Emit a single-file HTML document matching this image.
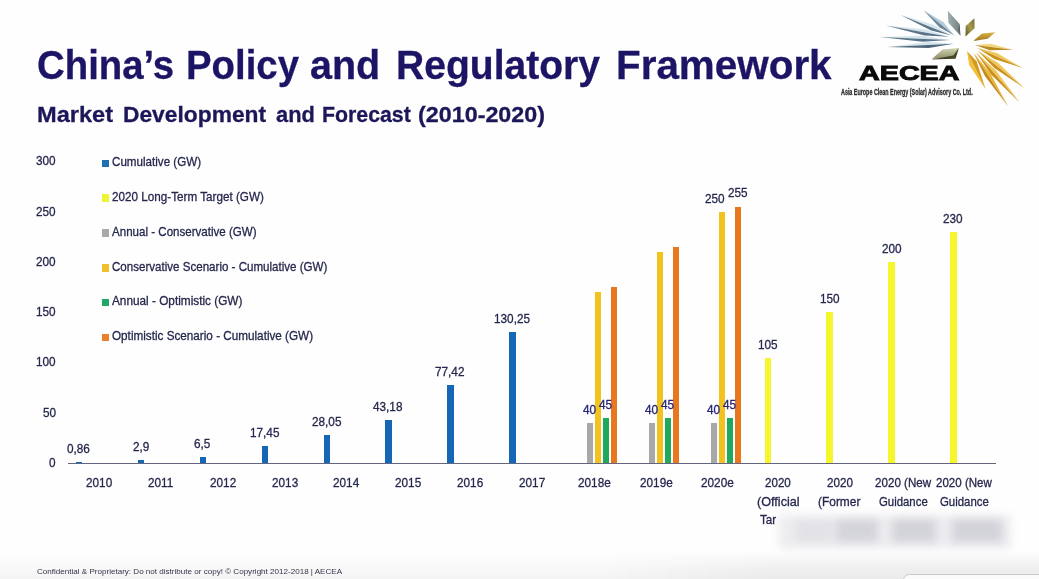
<!DOCTYPE html>
<html lang="en"><head><meta charset="utf-8"><title>China's Policy and Regulatory Framework</title>
<style>
html,body{margin:0;padding:0;}
body{width:1039px;height:579px;position:relative;overflow:hidden;background:#fff;font-family:"Liberation Sans", Arial, sans-serif;}
#s{position:absolute;left:0;top:0;width:1039px;height:579px;overflow:hidden;background:#fefefe;filter:blur(0.5px);}
.t{position:absolute;white-space:nowrap;line-height:1;transform-origin:0 0;display:block;-webkit-text-stroke:0.3px currentColor;}
.lg{-webkit-text-stroke:0.9px currentColor;}
.ft{-webkit-text-stroke:0;}
.b{position:absolute;width:6.4px;display:block;}
.m{position:absolute;left:102px;width:6.6px;height:7.4px;display:block;}
#ax{position:absolute;left:68px;top:462.8px;width:928px;height:1.5px;background:#64667f;}
#bot{position:absolute;left:0;top:551px;width:1039px;height:28px;background:linear-gradient(to bottom,rgba(255,255,255,0) 0%,#fafafa 45%,#f4f4f4 100%);}
#bot2{position:absolute;left:600px;top:551px;width:439px;height:28px;background:linear-gradient(to right,rgba(0,0,0,0),rgba(0,0,0,0.035) 40%);-webkit-mask-image:linear-gradient(to bottom,transparent,#000 60%);mask-image:linear-gradient(to bottom,transparent,#000 60%);}
#rr{position:absolute;left:903px;top:574px;width:160px;height:20px;border:1px solid #c9c9c9;border-radius:6px;background:#fbfbfb;}
#blur{position:absolute;left:0;top:0;width:1039px;height:579px;filter:blur(4px);}
#blur i{position:absolute;display:block;}
</style></head><body><div id="s">
<div id="bot"></div><div id="bot2"></div><div id="rr"></div>
<div id="blur">
<i style="left:779px;top:515px;width:232px;height:34px;background:#ededf0"></i>
<i style="left:796px;top:520px;width:36px;height:22px;background:#e2e2e7"></i>
<i style="left:836px;top:519px;width:42px;height:23px;background:#d4d4db"></i>
<i style="left:892px;top:519px;width:44px;height:23px;background:#d3d3da"></i>
<i style="left:952px;top:519px;width:50px;height:23px;background:#d3d3da"></i>
</div>
<i class="b" style="left:76.04px;top:462.43px;height:0.87px;background:#1567b6"></i><i class="b" style="left:137.91px;top:460.38px;height:2.92px;background:#1567b6"></i><i class="b" style="left:199.78px;top:456.76px;height:6.54px;background:#1567b6"></i><i class="b" style="left:261.65px;top:445.75px;height:17.55px;background:#1567b6"></i><i class="b" style="left:323.52px;top:435.08px;height:28.22px;background:#1567b6"></i><i class="b" style="left:385.39px;top:419.86px;height:43.44px;background:#1567b6"></i><i class="b" style="left:447.26px;top:385.42px;height:77.88px;background:#1567b6"></i><i class="b" style="left:509.13px;top:332.27px;height:131.03px;background:#1567b6"></i><i class="b" style="left:587.00px;top:423.06px;height:40.24px;background:#a8a8a8"></i><i class="b" style="left:595.00px;top:292.28px;height:171.02px;background:#f2c21e"></i><i class="b" style="left:603.00px;top:418.03px;height:45.27px;background:#1fa95c"></i><i class="b" style="left:611.00px;top:287.25px;height:176.05px;background:#e8771f"></i><i class="b" style="left:648.87px;top:423.06px;height:40.24px;background:#a8a8a8"></i><i class="b" style="left:656.87px;top:252.04px;height:211.26px;background:#f2c21e"></i><i class="b" style="left:664.87px;top:418.03px;height:45.27px;background:#1fa95c"></i><i class="b" style="left:672.87px;top:247.01px;height:216.29px;background:#e8771f"></i><i class="b" style="left:710.74px;top:423.06px;height:40.24px;background:#a8a8a8"></i><i class="b" style="left:718.74px;top:211.80px;height:251.50px;background:#f2c21e"></i><i class="b" style="left:726.74px;top:418.03px;height:45.27px;background:#1fa95c"></i><i class="b" style="left:734.74px;top:206.77px;height:256.53px;background:#e8771f"></i><i class="b" style="left:764.61px;top:357.67px;height:105.63px;background:#f5f62c"></i><i class="b" style="left:826.48px;top:312.40px;height:150.90px;background:#f5f62c"></i><i class="b" style="left:888.35px;top:262.10px;height:201.20px;background:#f5f62c"></i><i class="b" style="left:950.22px;top:231.92px;height:231.38px;background:#f5f62c"></i>
<div id="ax"></div>
<i class="m" style="top:159.60px;background:#1f6fb2"></i><i class="m" style="top:194.40px;background:#eef436"></i><i class="m" style="top:229.30px;background:#a9a9a9"></i><i class="m" style="top:264.30px;background:#efc02a"></i><i class="m" style="top:298.80px;background:#22a866"></i><i class="m" style="top:333.60px;background:#e8832c"></i>
<span class="t" style="left:37.30px;top:45.13px;font-size:40.6px;color:#1c1565;font-weight:700;transform:scaleX(0.9457);">China’s</span><span class="t" style="left:186.11px;top:45.13px;font-size:40.6px;color:#1c1565;font-weight:700;transform:scaleX(0.9452);">Policy</span><span class="t" style="left:310.28px;top:45.13px;font-size:40.6px;color:#1c1565;font-weight:700;transform:scaleX(0.9733);">and</span><span class="t" style="left:395.57px;top:45.13px;font-size:40.6px;color:#1c1565;font-weight:700;transform:scaleX(0.9626);">Regulatory</span><span class="t" style="left:616.01px;top:45.13px;font-size:40.6px;color:#1c1565;font-weight:700;transform:scaleX(0.9957);">Framework</span><span class="t" style="left:37.20px;top:104.44px;font-size:22.4px;color:#1b1758;font-weight:700;transform:scaleX(1.0534);">Market</span><span class="t" style="left:123.38px;top:104.44px;font-size:22.4px;color:#1b1758;font-weight:700;transform:scaleX(1.0175);">Development</span><span class="t" style="left:275.60px;top:104.44px;font-size:22.4px;color:#1b1758;font-weight:700;transform:scaleX(0.9750);">and</span><span class="t" style="left:321.95px;top:104.44px;font-size:22.4px;color:#1b1758;font-weight:700;transform:scaleX(0.9507);">Forecast</span><span class="t" style="left:417.86px;top:104.44px;font-size:22.4px;color:#1b1758;font-weight:700;transform:scaleX(1.0412);">(2010-2020)</span><span class="t" style="left:49.05px;top:457.03px;font-size:12.6px;color:#25274d;transform:scaleX(0.9350);">0</span><span class="t" style="left:42.51px;top:406.73px;font-size:12.6px;color:#25274d;transform:scaleX(0.9350);">50</span><span class="t" style="left:35.96px;top:356.43px;font-size:12.6px;color:#25274d;transform:scaleX(0.9350);">100</span><span class="t" style="left:35.96px;top:306.13px;font-size:12.6px;color:#25274d;transform:scaleX(0.9350);">150</span><span class="t" style="left:35.96px;top:255.83px;font-size:12.6px;color:#25274d;transform:scaleX(0.9350);">200</span><span class="t" style="left:35.96px;top:205.53px;font-size:12.6px;color:#25274d;transform:scaleX(0.9350);">250</span><span class="t" style="left:35.96px;top:155.23px;font-size:12.6px;color:#25274d;transform:scaleX(0.9350);">300</span><span class="t" style="left:112.30px;top:156.13px;font-size:12.6px;color:#25274d;transform:scaleX(0.9225);">Cumulative (GW)</span><span class="t" style="left:112.30px;top:190.93px;font-size:12.6px;color:#25274d;transform:scaleX(0.9286);">2020 Long-Term Target (GW)</span><span class="t" style="left:112.30px;top:225.83px;font-size:12.6px;color:#25274d;transform:scaleX(0.9181);">Annual - Conservative (GW)</span><span class="t" style="left:112.30px;top:260.83px;font-size:12.6px;color:#25274d;transform:scaleX(0.9186);">Conservative Scenario - Cumulative (GW)</span><span class="t" style="left:112.30px;top:295.33px;font-size:12.6px;color:#25274d;transform:scaleX(0.9363);">Annual - Optimistic (GW)</span><span class="t" style="left:112.30px;top:330.13px;font-size:12.6px;color:#25274d;transform:scaleX(0.9299);">Optimistic Scenario - Cumulative (GW)</span><span class="t" style="left:85.94px;top:476.73px;font-size:12.6px;color:#25274d;transform:scaleX(0.9350);">2010</span><span class="t" style="left:148.25px;top:476.73px;font-size:12.6px;color:#25274d;transform:scaleX(0.9350);">2011</span><span class="t" style="left:209.68px;top:476.73px;font-size:12.6px;color:#25274d;transform:scaleX(0.9350);">2012</span><span class="t" style="left:271.55px;top:476.73px;font-size:12.6px;color:#25274d;transform:scaleX(0.9350);">2013</span><span class="t" style="left:333.42px;top:476.73px;font-size:12.6px;color:#25274d;transform:scaleX(0.9350);">2014</span><span class="t" style="left:395.29px;top:476.73px;font-size:12.6px;color:#25274d;transform:scaleX(0.9350);">2015</span><span class="t" style="left:457.16px;top:476.73px;font-size:12.6px;color:#25274d;transform:scaleX(0.9350);">2016</span><span class="t" style="left:519.03px;top:476.73px;font-size:12.6px;color:#25274d;transform:scaleX(0.9350);">2017</span><span class="t" style="left:577.63px;top:476.73px;font-size:12.6px;color:#25274d;transform:scaleX(0.9350);">2018e</span><span class="t" style="left:639.50px;top:476.73px;font-size:12.6px;color:#25274d;transform:scaleX(0.9350);">2019e</span><span class="t" style="left:701.37px;top:476.73px;font-size:12.6px;color:#25274d;transform:scaleX(0.9350);">2020e</span><span class="t" style="left:765.00px;top:476.73px;font-size:12.6px;color:#25274d;transform:scaleX(0.9210);">2020</span><span class="t" style="left:757.00px;top:495.53px;font-size:12.6px;color:#25274d;transform:scaleX(1.0034);">(Official</span><span class="t" style="left:759.50px;top:514.33px;font-size:12.6px;color:#25274d;transform:scaleX(0.9248);">Tar</span><span class="t" style="left:827.00px;top:476.73px;font-size:12.6px;color:#25274d;transform:scaleX(0.9282);">2020</span><span class="t" style="left:818.30px;top:495.53px;font-size:12.6px;color:#25274d;transform:scaleX(0.9466);">(Former</span><span class="t" style="left:875.00px;top:476.73px;font-size:12.6px;color:#25274d;transform:scaleX(0.9222);">2020 (New</span><span class="t" style="left:878.80px;top:495.53px;font-size:12.6px;color:#25274d;transform:scaleX(0.9034);">Guidance</span><span class="t" style="left:936.30px;top:476.73px;font-size:12.6px;color:#25274d;transform:scaleX(0.9174);">2020 (New</span><span class="t" style="left:940.00px;top:495.53px;font-size:12.6px;color:#25274d;transform:scaleX(0.9053);">Guidance</span><span class="t" style="left:67.38px;top:443.37px;font-size:12.6px;color:#25274d;transform:scaleX(0.9350);">0,86</span><span class="t" style="left:132.53px;top:441.32px;font-size:12.6px;color:#25274d;transform:scaleX(0.9350);">2,9</span><span class="t" style="left:194.40px;top:437.70px;font-size:12.6px;color:#25274d;transform:scaleX(0.9350);">6,5</span><span class="t" style="left:249.72px;top:426.68px;font-size:12.6px;color:#25274d;transform:scaleX(0.9350);">17,45</span><span class="t" style="left:311.59px;top:416.02px;font-size:12.6px;color:#25274d;transform:scaleX(0.9350);">28,05</span><span class="t" style="left:373.46px;top:400.80px;font-size:12.6px;color:#25274d;transform:scaleX(0.9350);">43,18</span><span class="t" style="left:435.33px;top:366.35px;font-size:12.6px;color:#25274d;transform:scaleX(0.9350);">77,42</span><span class="t" style="left:493.92px;top:313.20px;font-size:12.6px;color:#25274d;transform:scaleX(0.9350);">130,25</span><span class="t" style="left:583.15px;top:403.63px;font-size:12.6px;color:#232478;transform:scaleX(0.9350);">40</span><span class="t" style="left:599.45px;top:398.63px;font-size:12.6px;color:#232478;transform:scaleX(0.9350);">45</span><span class="t" style="left:645.02px;top:403.63px;font-size:12.6px;color:#232478;transform:scaleX(0.9350);">40</span><span class="t" style="left:661.32px;top:398.63px;font-size:12.6px;color:#232478;transform:scaleX(0.9350);">45</span><span class="t" style="left:706.89px;top:403.63px;font-size:12.6px;color:#232478;transform:scaleX(0.9350);">40</span><span class="t" style="left:723.19px;top:398.63px;font-size:12.6px;color:#232478;transform:scaleX(0.9350);">45</span><span class="t" style="left:704.98px;top:192.53px;font-size:12.6px;color:#25274d;transform:scaleX(0.9350);">250</span><span class="t" style="left:727.98px;top:186.63px;font-size:12.6px;color:#25274d;transform:scaleX(0.9350);">255</span><span class="t" style="left:757.79px;top:338.50px;font-size:12.6px;color:#25274d;transform:scaleX(0.9350);">105</span><span class="t" style="left:819.66px;top:293.23px;font-size:12.6px;color:#25274d;transform:scaleX(0.9350);">150</span><span class="t" style="left:881.53px;top:242.93px;font-size:12.6px;color:#25274d;transform:scaleX(0.9350);">200</span><span class="t" style="left:943.40px;top:212.75px;font-size:12.6px;color:#25274d;transform:scaleX(0.9350);">230</span><span class="t ft" style="left:36.50px;top:568.17px;font-size:7.6px;color:#34344a;transform:scaleX(1.0614);">Confidential &amp; Proprietary: Do not distribute or copy! © Copyright 2012-2018 | AECEA</span><span class="t lg" style="left:858.60px;top:63.22px;font-size:20.3px;color:#0a0a0a;font-weight:700;transform:scaleX(1.4156);">AECEA</span><span class="t" style="left:840.80px;top:87.72px;font-size:8.6px;color:#2b2b2b;font-weight:700;transform:scaleX(0.6261);">Asia Europe Clean Energy (Solar) Advisory Co. Ltd.</span>
<svg id="logo" width="169" height="115" viewBox="870 0 169 115" style="position:absolute;left:870px;top:0;filter:blur(0.45px)">
<defs>
<linearGradient id="gGray" x1="0" y1="0" x2="1" y2="0"><stop offset="0" stop-color="#9fb0b4"/><stop offset="1" stop-color="#76807e"/></linearGradient>
<linearGradient id="gOl" x1="1" y1="0" x2="0" y2="1"><stop offset="0" stop-color="#6f6a32"/><stop offset="0.5" stop-color="#a89b4c"/><stop offset="1" stop-color="#5a5426"/></linearGradient>
<linearGradient id="gGo" x1="0" y1="0" x2="0" y2="1"><stop offset="0" stop-color="#e0b548"/><stop offset="1" stop-color="#9a741a"/></linearGradient>
<linearGradient id="gLo" x1="0" y1="0" x2="0" y2="1"><stop offset="0" stop-color="#d2d3b0"/><stop offset="1" stop-color="#8d8e68"/></linearGradient>
</defs>
<polygon points="879.5,36.9 923.0,35.8 949.5,39.9" fill="#d3e4ed"/><polygon points="879.5,36.9 922.8,41.8 949.5,39.9" fill="#5a7589"/><polygon points="885.8,25.5 925.5,29.6 949.0,36.8" fill="#d3e4ed"/><polygon points="885.8,25.5 924.5,35.5 949.0,36.8" fill="#5a7589"/><polygon points="900.6,15.0 933.4,24.8 951.6,35.4" fill="#d3e4ed"/><polygon points="900.6,15.0 931.1,30.5 951.6,35.4" fill="#5a7589"/><polygon points="923.6,10.2 943.5,22.3 954.4,35.4" fill="#b3cad9"/><polygon points="923.6,10.2 939.4,27.3 954.4,35.4" fill="#6a8598"/><polygon points="887.5,47.1 928.3,42.1 953.6,43.7" fill="#d3e3ec"/><polygon points="887.5,47.1 928.6,47.9 953.6,43.7" fill="#4d667a"/><polygon points="947.8,10.8 959.6,24.0 960.4,35.8 948.4,22.8" fill="url(#gGray)"/><polygon points="959.6,24.0 960.4,35.8 958.0,29.5" fill="#59666a"/><polygon points="974.4,18.3 974.6,28.2 965.5,36.6 965.7,25.9" fill="url(#gOl)"/><polygon points="995.3,32.2 987.7,38.8 973.1,41.1 982.0,33.5" fill="url(#gGo)"/><polygon points="958.9,48.0 954.8,57.0 932.0,58.9 942.4,49.6" fill="url(#gLo)"/><polygon points="958.9,48.0 955.6,58.8 931.2,59.4 953.4,55.6" fill="#45452a"/><polygon points="1013.0,49.7 990.6,43.7 975.0,45.1" fill="#f3d67e"/><polygon points="1013.0,49.7 989.8,50.2 975.0,45.1" fill="#b98a22"/><polygon points="1022.6,68.0 996.9,53.0 977.6,48.0" fill="#f0c75a"/><polygon points="1022.6,68.0 994.3,59.0 977.6,48.0" fill="#c9901c"/><polygon points="1024.4,88.1 998.3,63.0 977.6,50.5" fill="#f0c75a"/><polygon points="1024.4,88.1 994.3,68.0 977.6,50.5" fill="#c9901c"/><polygon points="1019.6,102.5 995.8,70.3 976.0,52.2" fill="#f0c75a"/><polygon points="1019.6,102.5 991.1,74.4 976.0,52.2" fill="#c9901c"/><polygon points="1008.2,106.4 990.0,72.8 973.6,53.1" fill="#e9b63a"/><polygon points="1008.2,106.4 984.9,76.1 973.6,53.1" fill="#c48a18"/><polygon points="985.6,89.2 969.2,65.1 967.0,51.0" fill="#f0c03a"/><polygon points="985.6,89.2 976.7,61.4 967.0,51.0" fill="#d49a1c"/>
</svg>
</div></body></html>
